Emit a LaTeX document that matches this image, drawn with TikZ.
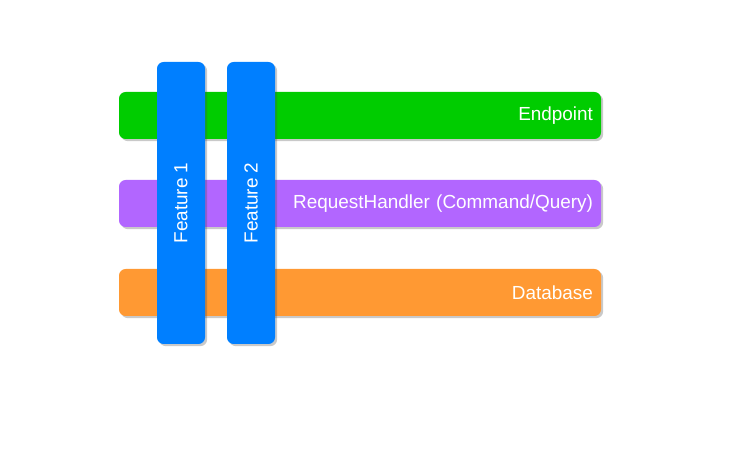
\documentclass[tikz,border=0pt]{standalone}
\usepackage{fontspec}
\setmainfont{Liberation Sans}
\usetikzlibrary{shadows}

\definecolor{layergreen}{HTML}{00CC00}
\definecolor{layerpurple}{HTML}{B266FF}
\definecolor{layerorange}{HTML}{FF9933}
\definecolor{featureblue}{HTML}{007FFF}

\tikzset{every picture/.style={line width=0.75pt}}
\tikzset{
  barshadow/.style={drop shadow={shadow xshift=1.6pt, shadow yshift=-1.6pt, opacity=0.3, fill=black!70}},
  layerbar/.style={barshadow, rounded corners=5pt, minimum height=35.25pt, text width=349.5pt,
    inner xsep=6pt, inner ysep=0pt, align=right, text=white, font=\fontsize{14.2}{17}\selectfont},
  featurebar/.style={barshadow, fill=featureblue, rounded corners=5pt, minimum width=36pt,
    minimum height=211.5pt, inner sep=0pt, text=white, font=\fontsize{14.2}{17}\selectfont}
}

\begin{document}
\begin{tikzpicture}[x=0.75pt,y=0.75pt,yscale=-1,xscale=1]
\useasboundingbox (0,0) rectangle (732,452);

%Shape: Rounded Rect (layers)
\node [layerbar, fill=layergreen] (endpoint) at (360,115.5) {Endpoint};
\node [layerbar, fill=layerpurple] (handler) at (360,203.5) {RequestHandler (Command/Query)};
\node [layerbar, fill=layerorange] (database) at (360,292.5) {Database};

%Shape: Rounded Rect (features)
\node [featurebar] (feature1) at (181,203) {\rotatebox{90}{Feature 1}};
\node [featurebar] (feature2) at (251,203) {\rotatebox{90}{Feature 2}};
\end{tikzpicture}
\end{document}
